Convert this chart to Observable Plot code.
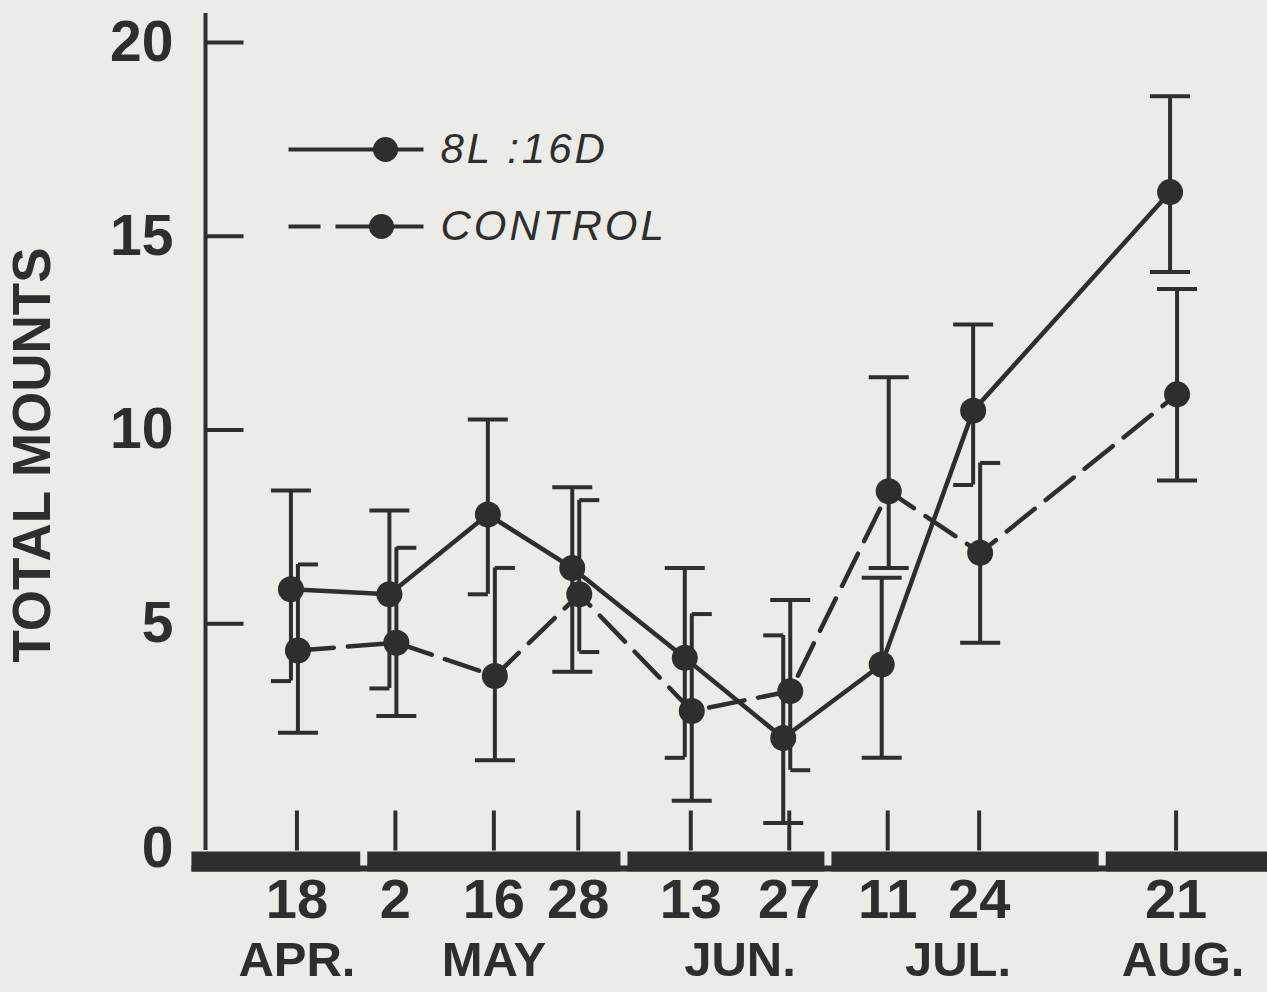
<!DOCTYPE html>
<html>
<head>
<meta charset="utf-8">
<script src="https://cdn.jsdelivr.net/npm/d3@7"></script>
<script src="https://cdn.jsdelivr.net/npm/@observablehq/plot@0.6"></script>
<style>
  html, body { margin: 0; padding: 0; background: #ebebe7; overflow: hidden; }
  #chart svg { display: block; }
</style>
</head>
<body>
<div id="chart"></div>
<script>
// ---------- data ----------
const YEAR = 1975; // year not given in the figure
const sampleDates = ["04-18", "05-02", "05-16", "05-28", "06-13", "06-27", "07-11", "07-24", "08-21"];
const dayLabels = ["18", "2", "16", "28", "13", "27", "11", "24", "21"];
const monthLabels = ["APR.", "MAY", "JUN.", "JUL.", "AUG."];
const monthLabelDates = ["04-18", "05-16", "06-20", "07-21", "08-22"];
const seriesNames = ["8L :16D", "CONTROL"];

const lightMean = [5.89, 5.76, 7.82, 6.44, 4.12, 2.05, 3.95, 10.50, 16.14];
const lightLow  = [3.52, 3.33, 5.76, 3.76, 1.54, -0.14, 1.54, 8.58, 14.08];
const lightHigh = [8.44, 7.92, 10.27, 8.52, 6.44, 4.70, 6.19, 12.72, 18.61];

const controlMean = [4.31, 4.51, 3.65, 5.76, 2.75, 3.26, 8.42, 6.83, 10.92];
const controlLow  = [2.19, 2.62, 1.48, 4.27, 0.43, 1.22, 6.44, 4.51, 8.70];
const controlHigh = [6.53, 6.96, 6.44, 8.19, 5.25, 5.61, 11.36, 9.15, 13.64];

const yTickValues = [5, 10, 15, 20];
const yZeroLabel = [0];
const yTitle = "TOTAL MOUNTS";
// thick black bar along the time axis (start, end dates of its segments)
const barSegments = [["04-03", "04-27"], ["04-28", "06-03"], ["06-04", "07-02"], ["07-03", "08-10"], ["08-11", "09-06"]];

// ---------- styling ----------
const ink = "#2e2e2e";
const bg = "#ebebe7";
const font = "'Liberation Sans', Arial, Helvetica, sans-serif";

const toDate = s => new Date(`${YEAR}-${s}T00:00:00Z`);
const dates = sampleDates.map(toDate);

const series = [
  {name: seriesNames[0], mean: lightMean, low: lightLow, high: lightHigh, dx: -6, dash: null, side: "left"},
  {name: seriesNames[1], mean: controlMean, low: controlLow, high: controlHigh, dx: 1, dash: "36,14", side: "right"}
];

const rows = series.map(s => dates.map((d, i) => ({series: s.name, date: d, mean: s.mean[i], low: s.low[i], high: s.high[i]})));

// error-bar caps: a cap that falls inside the other series' bar is drawn as a half cap
const caps = series.map((s, k) => {
  const o = series[1 - k];
  const out = [];
  dates.forEach((d, i) => {
    for (const v of [s.low[i], s.high[i]]) {
      const inside = v > o.low[i] && v < o.high[i];
      out.push({date: d, value: v, kind: inside ? s.side : "full"});
    }
  });
  return out;
});

// custom symbols
const seg = (x1, y1, x2, y2) => ({draw(ctx) { ctx.moveTo(x1, y1); ctx.lineTo(x2, y2); }});
const capSym = (a, b) => ({draw(ctx, size) { const r = Math.sqrt(size / Math.PI); ctx.moveTo(a * r, 0); ctx.lineTo(b * r, 0); }});
const capSymbols = {full: capSym(-1, 1), left: capSym(-1, 0), right: capSym(0, 1)};

const marks = [];

// time bar
marks.push(Plot.link(barSegments, {x1: d => toDate(d[0]), x2: d => toDate(d[1]), y1: 0, y2: 0, dy: 44, stroke: ink, strokeWidth: 20}));
marks.push(Plot.link([[barSegments[0][0], barSegments[barSegments.length - 1][1]]], {x1: d => toDate(d[0]), x2: d => toDate(d[1]), y1: 0, y2: 0, dy: 51, stroke: ink, strokeWidth: 6}));

// y axis line
marks.push(Plot.ruleX([toDate("04-05")], {y1: -0.85, y2: 20.75, stroke: ink, strokeWidth: 4}));
// y ticks (pointing inward)
marks.push(Plot.dot(yTickValues, {y: d => d, frameAnchor: "left", symbol: seg(0, 0, 38, 0), stroke: ink, strokeWidth: 4, fill: "none"}));
// x ticks (pointing up from the bar)
marks.push(Plot.dot(dates, {x: d => d, frameAnchor: "bottom", dy: 33, symbol: seg(0, -40, 0, 0), stroke: ink, strokeWidth: 4, fill: "none"}));

const labelStyle = {fill: ink, fontWeight: "bold", lineAnchor: "middle"};
// y tick labels
marks.push(Plot.text(yTickValues, {y: d => d, text: d => String(d), frameAnchor: "left", dx: -32, textAnchor: "end", fontSize: 57, ...labelStyle}));
marks.push(Plot.text(yZeroLabel, {y: d => d, text: d => String(d), frameAnchor: "left", dx: -32, dy: 31, textAnchor: "end", fontSize: 57, ...labelStyle}));
// y title
marks.push(Plot.text([yTitle], {frameAnchor: "left", rotate: -90, dx: -172, dy: 25, textAnchor: "middle", fontSize: 53, ...labelStyle}));
// x labels
marks.push(Plot.text(dates, {x: d => d, text: (d, i) => dayLabels[i], frameAnchor: "bottom", dy: 83, textAnchor: "middle", fontSize: 56, ...labelStyle}));
marks.push(Plot.text(monthLabelDates.map(toDate), {x: d => d, text: (d, i) => monthLabels[i], frameAnchor: "bottom", dy: 143, textAnchor: "middle", fontSize: 49, ...labelStyle}));

// series
series.forEach((s, k) => {
  marks.push(Plot.ruleX(rows[k], {x: "date", y1: "low", y2: "high", dx: s.dx, stroke: ink, strokeWidth: 4}));
  for (const kind of ["full", "left", "right"]) {
    const data = caps[k].filter(c => c.kind === kind);
    if (data.length) marks.push(Plot.dot(data, {x: "date", y: "value", dx: s.dx, r: 20, symbol: capSymbols[kind], stroke: ink, strokeWidth: 4, fill: "none"}));
  }
  marks.push(Plot.line(rows[k], {x: "date", y: "mean", dx: s.dx, stroke: ink, strokeWidth: 4.5, strokeDasharray: s.dash || undefined}));
  marks.push(Plot.dot(rows[k], {x: "date", y: "mean", dx: s.dx, r: 13, fill: ink, stroke: "none"}));
});

// legend (inside the plot, top-left)
series.forEach((s, k) => {
  const dy = 107 + k * 77;
  marks.push(Plot.dot([s.name], {frameAnchor: "top-left", dx: 83, dy, symbol: seg(0, 0, 135, 0), stroke: ink, strokeWidth: 4, fill: "none", strokeDasharray: s.dash ? "32,15,200" : undefined}));
  marks.push(Plot.dot([s.name], {frameAnchor: "top-left", dx: 180 + (k ? -4 : 0), dy, r: 12.5, fill: ink, stroke: "none"}));
  marks.push(Plot.text([s.name], {frameAnchor: "top-left", dx: 235, dy, text: d => d, textAnchor: "start", lineAnchor: "middle", fontSize: 42, fontStyle: "italic", fill: ink}));
});

const chart = Plot.plot({
  width: 1267,
  height: 992,
  marginTop: 42,
  marginBottom: 175,
  marginLeft: 205,
  marginRight: 0,
  x: {type: "utc", domain: [toDate("04-05"), toDate("09-03")], axis: null},
  y: {domain: [0, 20], axis: null},
  style: {background: bg, fontFamily: font, color: ink, overflow: "visible"},
  marks
});
// wide lettering of the legend labels
d3.select(chart).selectAll("text")
  .filter(function() { return seriesNames.includes(this.textContent); })
  .attr("letter-spacing", 3);
document.getElementById("chart").appendChild(chart);
</script>
</body>
</html>
